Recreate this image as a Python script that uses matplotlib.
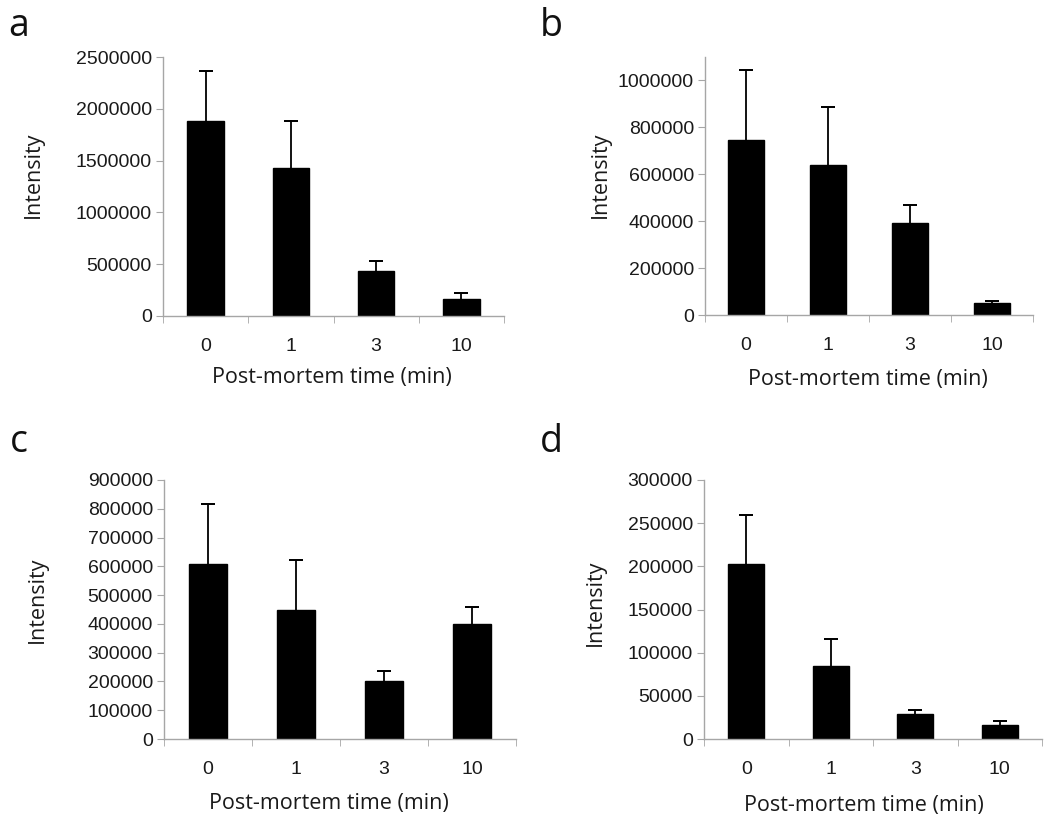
import numpy as np
import matplotlib
matplotlib.use("Agg")
import matplotlib.pyplot as plt

# post-mortem time categories
times = ["0", "1", "3", "10"]

# panel a
a_mean = [1885000, 1425000, 434000, 164000]
a_err = [483000, 460000, 97000, 55000]
# panel b
b_mean = [745000, 641000, 394000, 52000]
b_err = [298000, 245000, 77000, 8000]
# panel c
c_mean = [609000, 449000, 203000, 398000]
c_err = [208000, 172000, 34000, 62000]
# panel d
d_mean = [202700, 84200, 28600, 16600]
d_err = [57300, 31800, 4600, 4200]

# letter, means, errors, ymax, yticks, axes box (px), letter pos, ylabel pos, xlabel pos
panels = [
    ("a", a_mean, a_err, 2500000, np.arange(0, 2500001, 500000), [163, 57, 504, 316],
     (8, 36), (33, 175), (332, 377)),
    ("b", b_mean, b_err, 1100000, np.arange(0, 1000001, 200000), [705, 57, 1033, 315],
     (540, 36), (600, 175), (868, 380)),
    ("c", c_mean, c_err, 900000, np.arange(0, 900001, 100000), [164, 480, 516, 739],
     (10, 452), (37, 600), (329, 803)),
    ("d", d_mean, d_err, 300000, np.arange(0, 300001, 50000), [704, 480, 1042, 739],
     (540, 452), (595, 603), (864, 805)),
]

W, H = 1062, 815
fig = plt.figure(figsize=(W / 100, H / 100), dpi=100)
spine_col = "#a6a6a6"
tick_font = "Liberation Sans"
lab_font = "Open Sans"
txt_col = "#1a1a1a"

for letter, mean, err, ymax, yticks, box, lpos, ylpos, xlpos in panels:
    l, t, r, b = box
    ax = fig.add_axes([l / W, 1 - b / H, (r - l) / W, (b - t) / H])
    x = np.arange(len(times))
    ax.bar(x, mean, width=0.43, color="black", edgecolor="black", zorder=2)
    ax.errorbar(x, np.array(mean) + np.array(err) / 2, yerr=np.array(err) / 2, fmt="none",
                ecolor="black", elinewidth=1.3, zorder=1)
    ax.errorbar(x, np.array(mean) + np.array(err), yerr=0, fmt="none",
                ecolor="black", capsize=5, capthick=1.3, elinewidth=0, zorder=1)
    ax.set_xlim(-0.5, 3.5)
    ax.set_ylim(0, ymax)
    ax.set_yticks(yticks)
    ax.set_yticklabels([str(v) for v in yticks], fontfamily=tick_font, fontsize=14, color=txt_col)
    ax.set_xticks(x)
    ax.set_xticklabels(times, fontfamily=tick_font, fontsize=14, color=txt_col)
    ax.set_xticks(np.arange(-0.5, 3.6, 1), minor=True)
    ax.tick_params(axis="x", which="major", length=0, pad=16)
    ax.tick_params(axis="x", which="minor", length=5, color=spine_col, direction="out")
    ax.tick_params(axis="y", length=5, color=spine_col, direction="out", pad=3)
    for s in ["top", "right"]:
        ax.spines[s].set_visible(False)
    for s in ["left", "bottom"]:
        ax.spines[s].set_color(spine_col)
        ax.spines[s].set_linewidth(1.0)
    ax.set_ylabel("Intensity", fontfamily=lab_font, fontsize=15.5, color=txt_col, va="center")
    ax.set_xlabel("Post-mortem time (min)", fontfamily=lab_font, fontsize=15.5, color=txt_col, va="center")
    ax.yaxis.set_label_coords((ylpos[0] - l) / (r - l), (b - ylpos[1]) / (b - t))
    ax.xaxis.set_label_coords((xlpos[0] - l) / (r - l), (b - xlpos[1]) / (b - t))
    fig.text(lpos[0] / W, 1 - lpos[1] / H, letter, fontfamily=lab_font, fontsize=27,
             ha="left", va="baseline", color="#111111")

fig.savefig("out.png", dpi=100)
